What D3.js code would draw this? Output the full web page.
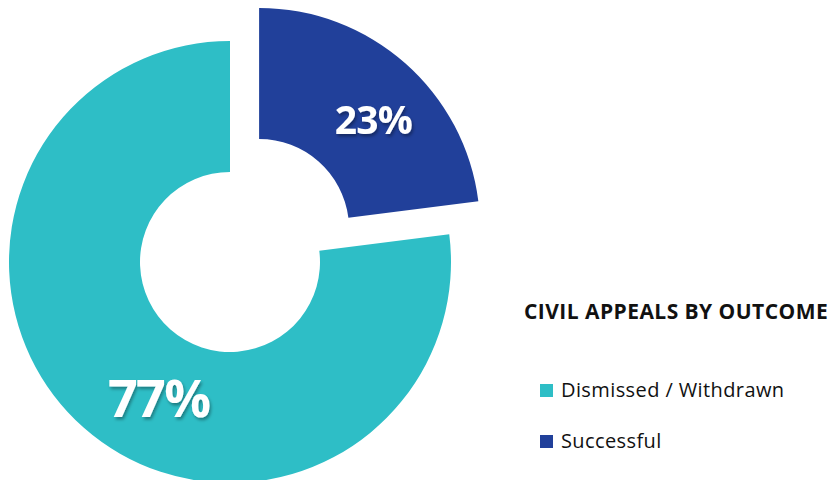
<!DOCTYPE html>
<html>
<head>
<meta charset="utf-8">
<script src="https://cdn.jsdelivr.net/npm/d3@7"></script>
<style>
  html, body { margin: 0; padding: 0; background: #ffffff; }
  svg { display: block; }
</style>
</head>
<body>
<svg id="chart" width="835" height="480"></svg>
<script>
// Civil appeals by outcome (share of all appeals, %)
const categories = ["Dismissed / Withdrawn", "Successful"];
const values = [77, 23];
const colors = ["#2ebec6", "#21409a"];
const chartTitle = "CIVIL APPEALS BY OUTCOME";

const svg = d3.select("#chart");
const cx = 230, cy = 262;
const outerR = 221, innerR = 90;
const explode = 44;            // pull-out distance for the "Successful" slice
const total = d3.sum(values);

// soft drop shadow behind the percentage labels
const defs = svg.append("defs");
const f = defs.append("filter").attr("id", "lblShadow")
  .attr("x", "-20%").attr("y", "-20%").attr("width", "140%").attr("height", "150%");
f.append("feDropShadow").attr("dx", 1.5).attr("dy", 2.5).attr("stdDeviation", 1.6)
  .attr("flood-color", "#000").attr("flood-opacity", 0.35);

// Successful sits from 12 o'clock clockwise; dismissed follows it round the ring
const start = 2 * Math.PI * values[1] / total;
const pie = d3.pie().sort(null).value(d => d.value)
  .startAngle(start).endAngle(start + 2 * Math.PI);
const data = categories.map((c, i) => ({ name: c, value: values[i], color: colors[i], i }));
const arcs = pie(data);

const arc = d3.arc().innerRadius(innerR).outerRadius(outerR);

const g = svg.append("g").attr("transform", `translate(${cx},${cy})`);

function offset(a) {
  if (a.data.name !== "Successful") return [0, 0];
  const m = (a.startAngle + a.endAngle) / 2;
  return [Math.sin(m) * explode, -Math.cos(m) * explode];
}

const slices = g.selectAll("g.slice").data(arcs).join("g")
  .attr("class", "slice")
  .attr("transform", a => { const [dx, dy] = offset(a); return `translate(${dx},${dy})`; });

slices.append("path")
  .attr("d", arc)
  .attr("fill", a => a.data.color);

// where along each slice the percentage sits (fraction of its sweep) and its size
const labelFrac = { "Dismissed / Withdrawn": 0.45, "Successful": 0.56 };
const labelR = { "Dismissed / Withdrawn": 154, "Successful": 158 };
const labelSize = { "Dismissed / Withdrawn": 52, "Successful": 39 };

function labelPos(a) {
  const ang = a.startAngle + (a.endAngle - a.startAngle) * labelFrac[a.data.name];
  const r = labelR[a.data.name];
  return [Math.sin(ang) * r, -Math.cos(ang) * r];
}

slices.append("text")
  .attr("x", a => labelPos(a)[0])
  .attr("y", a => labelPos(a)[1])
  .attr("dy", "0.36em")
  .attr("text-anchor", "middle")
  .attr("font-family", "'Open Sans', 'Noto Sans', sans-serif")
  .attr("font-weight", 700)
  .attr("font-size", a => labelSize[a.data.name])
  .attr("letter-spacing", a => a.data.name === "Successful" ? -0.8 : -1.5)
  .attr("fill", "#ffffff")
  .attr("filter", "url(#lblShadow)")
  .text(a => `${a.data.value}%`);

// title and legend
const lx = 524;
svg.append("text")
  .attr("x", lx).attr("y", 319)
  .attr("font-family", "'Open Sans', 'Noto Sans', sans-serif")
  .attr("font-weight", 700)
  .attr("font-size", 21)
  .attr("letter-spacing", 0.45)
  .attr("fill", "#111111")
  .text(chartTitle);

const legend = svg.append("g").attr("transform", "translate(540,0)");
const rowY = [397, 448];
const items = legend.selectAll("g.item").data(data).join("g")
  .attr("class", "item")
  .attr("transform", (d, i) => `translate(0,${rowY[i]})`);
items.append("rect")
  .attr("x", 0).attr("y", -13).attr("width", 13).attr("height", 13)
  .attr("fill", d => d.color);
items.append("text")
  .attr("x", 21).attr("y", 0)
  .attr("font-family", "'Open Sans', 'Noto Sans', sans-serif")
  .attr("font-size", 20)
  .attr("letter-spacing", 0.4)
  .attr("fill", "#111111")
  .text(d => d.name);
</script>
</body>
</html>
